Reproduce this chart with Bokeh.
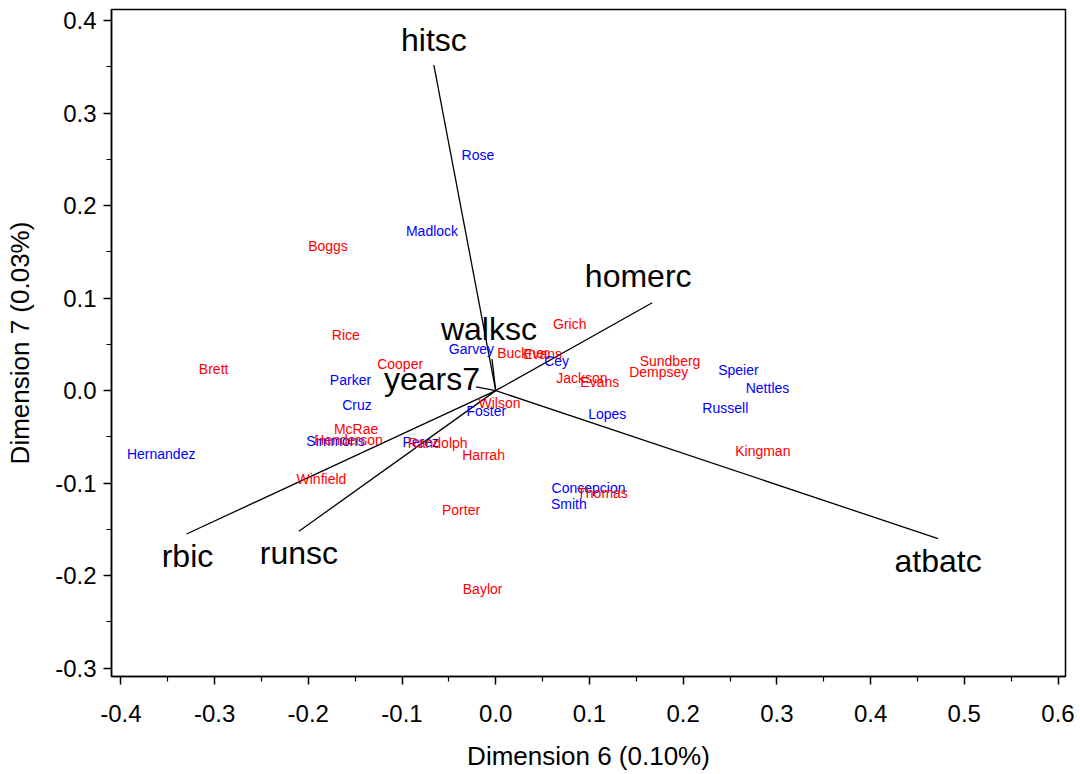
from bokeh.plotting import figure
from bokeh.models import ColumnDataSource, FixedTicker
from bokeh.core.properties import value
from bokeh.embed import file_html
from bokeh.resources import INLINE

# ---- data: player scores (Dimension 6, Dimension 7) ----
players = ["Rose", "Madlock", "Boggs", "Rice", "Brett", "Cooper", "Garvey", "Parker",
           "Cruz", "Hernandez", "McRae", "Simmons", "Henderson", "Winfield", "Perez",
           "Randolph", "Harrah", "Wilson", "Foster", "Porter", "Baylor", "Buckner",
           "Evans", "Cey", "Grich", "Jackson", "Evans", "Lopes", "Sundberg", "Dempsey",
           "Speier", "Nettles", "Russell", "Kingman", "Concepcion", "Thomas", "Smith"]
dim6 = [-0.019, -0.068, -0.179, -0.160, -0.301, -0.102, -0.026, -0.155,
        -0.148, -0.357, -0.149, -0.171, -0.157, -0.186, -0.080,
        -0.062, -0.013, 0.004, -0.010, -0.037, -0.014, 0.029,
        0.050, 0.065, 0.079, 0.092, 0.111, 0.119, 0.186, 0.174,
        0.259, 0.290, 0.245, 0.285, 0.099, 0.114, 0.078]
dim7 = [0.255, 0.173, 0.156, 0.060, 0.023, 0.029, 0.045, 0.011,
        -0.016, -0.069, -0.042, -0.054, -0.053, -0.095, -0.055,
        -0.057, -0.070, -0.013, -0.022, -0.129, -0.214, 0.041,
        0.040, 0.032, 0.072, 0.014, 0.009, -0.025, 0.032, 0.020,
        0.022, 0.003, -0.019, -0.065, -0.105, -0.111, -0.123]
group = ["N", "N", "A", "A", "A", "A", "N", "N",
         "N", "N", "A", "N", "A", "A", "N",
         "A", "A", "A", "N", "A", "A", "A",
         "A", "N", "A", "A", "A", "N", "A", "A",
         "N", "N", "N", "A", "N", "A", "N"]

# ---- data: variable vectors ----
variables = ["hitsc", "homerc", "atbatc", "rbic", "runsc", "walksc", "years7"]
var_x = [-0.066, 0.167, 0.472, -0.330, -0.210, -0.004, -0.021]
var_y = [0.352, 0.095, -0.160, -0.155, -0.152, 0.034, 0.004]

# ---- axis ticks ----
x_ticks = [-0.4, -0.3, -0.2, -0.1, 0.0, 0.1, 0.2, 0.3, 0.4, 0.5, 0.6]
y_ticks = [-0.3, -0.2, -0.1, 0.0, 0.1, 0.2, 0.3, 0.4]
x_title = "Dimension 6 (0.10%)"
y_title = "Dimension 7 (0.03%)"

# ---- styling ----
group_colors = {"A": "#FF0000", "N": "#0000FF"}
label_dx = [0, -14, 0, 1, 0, -3, -44]     # pixel offsets of vector labels
label_dy = [-25, -27, 22, 22, 22, -30, -8]
FONT = "Liberation Sans"

p = figure(width=1075, height=774, output_backend="svg", toolbar_location=None,
           x_range=(-0.410, 0.608), y_range=(-0.309, 0.412),
           min_border_left=111, min_border_right=10, min_border_top=9,
           min_border_bottom=98)
p.grid.visible = False
p.outline_line_color = "black"
p.outline_line_width = 1.5

# vectors
vsrc = ColumnDataSource(dict(x0=[0.0] * len(var_x), y0=[0.0] * len(var_y),
                             x1=var_x, y1=var_y, name=variables,
                             dx=label_dx, dy=label_dy))
p.segment(x0="x0", y0="y0", x1="x1", y1="y1", source=vsrc,
          line_color="black", line_width=1.3)
p.text(x="x1", y="y1", text="name", x_offset="dx", y_offset="dy", source=vsrc,
       text_font=value(FONT), text_font_size="32px", text_color="black",
       text_align="center", text_baseline="middle")

# players
psrc = ColumnDataSource(dict(x=dim6, y=dim7, name=players,
                             color=[group_colors[g] for g in group]))
p.text(x="x", y="y", text="name", source=psrc, text_color="color",
       text_font=value(FONT), text_font_size="14px",
       text_align="center", text_baseline="middle")

# axes
minor_x = [round(t + 0.05, 2) for t in x_ticks[:-1]]
minor_y = [round(t + 0.05, 2) for t in y_ticks[:-1]]
p.xaxis.ticker = FixedTicker(ticks=x_ticks, minor_ticks=minor_x)
p.yaxis.ticker = FixedTicker(ticks=y_ticks, minor_ticks=minor_y)
p.xaxis.major_label_overrides = {t: f"{t:.1f}" for t in x_ticks}
p.yaxis.major_label_overrides = {t: f"{t:.1f}" for t in y_ticks}
p.xaxis.axis_label = x_title
p.yaxis.axis_label = y_title

for ax in (p.xaxis[0], p.yaxis[0]):
    ax.axis_line_color = "black"
    ax.axis_line_width = 1.5
    ax.major_tick_line_color = "black"
    ax.major_tick_line_width = 1.5
    ax.minor_tick_line_color = "black"
    ax.minor_tick_line_width = 1.2
    ax.major_tick_in = 0
    ax.major_tick_out = 8
    ax.minor_tick_in = 0
    ax.minor_tick_out = 5
    ax.major_label_text_font = FONT
    ax.major_label_text_font_size = "24px"
    ax.major_label_text_color = "black"
    ax.axis_label_text_font = FONT
    ax.axis_label_text_font_size = "26px"
    ax.axis_label_text_font_style = "normal"
    ax.axis_label_text_color = "black"

p.xaxis.major_label_standoff = 20
p.xaxis.axis_label_standoff = 16
p.yaxis.major_label_standoff = 7
p.yaxis.axis_label_standoff = 17
p.yaxis.major_label_orientation = "horizontal"

open("out.html", "w").write(file_html(p, INLINE))
